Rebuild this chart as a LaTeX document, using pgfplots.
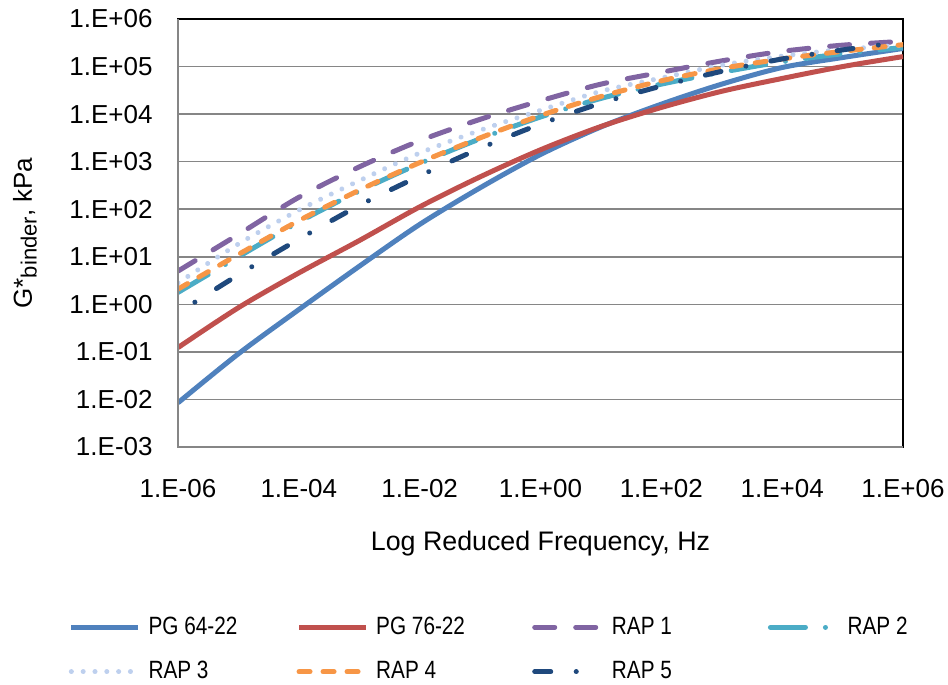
\documentclass[border=0pt]{standalone}
\usepackage{fontspec}
\setmainfont{Liberation Sans}
\usepackage{graphicx}
\usepackage{pgfplots}
\pgfplotsset{compat=1.18}
\definecolor{cBlue}{RGB}{79,129,189}
\definecolor{cRed}{RGB}{192,80,77}
\definecolor{cPurple}{RGB}{128,100,162}
\definecolor{cTeal}{RGB}{75,172,198}
\definecolor{cLight}{RGB}{190,208,238}
\definecolor{cOrange}{RGB}{247,150,70}
\definecolor{cNavy}{RGB}{31,73,125}
\definecolor{cGrid}{RGB}{134,134,134}
\newcommand{\legtext}[2]{\makebox[#1][l]{\scalebox{0.83}[1]{#2}}}
\begin{document}
\begin{tikzpicture}
\useasboundingbox (-89pt,-119pt) rectangle (385pt,223.5pt);
\begin{axis}[
  scale only axis, width=362.5pt, height=214pt,
  xmode=log, ymode=log,
  xmin=1e-6, xmax=1e6, ymin=1e-3, ymax=1e6,
  xtick={1e-6,1e-4,1e-2,1,1e2,1e4,1e6},
  xticklabels={1.E-06,1.E-04,1.E-02,1.E+00,1.E+02,1.E+04,1.E+06},
  ytick={1e-3,1e-2,1e-1,1,1e1,1e2,1e3,1e4,1e5,1e6},
  yticklabels={1.E-03,1.E-02,1.E-01,1.E+00,1.E+01,1.E+02,1.E+03,1.E+04,1.E+05,1.E+06},
  minor tick num=0,
  minor xtick={}, minor ytick={},
  tick style={draw=none},
  ymajorgrids=true,
  grid style={cGrid, line width=0.75pt},
  axis line style={black, line width=0.75pt},
  clip mode=individual,
  font=\fontsize{13}{15.5}\selectfont,
  xticklabel style={inner sep=0pt, anchor=north, yshift=-16pt},
  yticklabel style={inner sep=0pt, anchor=east, xshift=-12.5pt},
  xlabel={Log Reduced Frequency, Hz},
  xlabel style={at={(axis description cs:0.5,0)}, anchor=center, yshift=-48.25pt, font=\fontsize{13.4}{16}\selectfont},
  ylabel={G*\raisebox{-0.35ex}{\fontsize{11}{13}\selectfont binder}, kPa},
  ylabel style={at={(axis description cs:-0.211,0.5)}, anchor=center},
  legend columns=4,
  legend cell align=left,
  legend style={at={(axis description cs:-0.1511,-0.4731)}, anchor=west,
    draw=none, fill=none, inner sep=0pt, row sep=12pt,
    font=\fontsize{12.5}{15}\selectfont,
    nodes={inner sep=0pt},
    /tikz/every odd column/.style={column sep=4.1pt},
    /tikz/every even column/.style={column sep=0pt}},
  legend image code/.code={\draw[#1, dash phase=0pt] (0pt,0pt) -- (33.25pt,0pt);},
]
% PG 64-22
\addplot[cBlue, line width=2.5pt, smooth] coordinates {
(1e-6,0.0085) (1e-5,0.0912) (1e-4,0.776) (1e-3,6.31) (1e-2,47.9) (1e-1,282) (1,1413)
(1e1,5370) (1e2,16200) (1e3,42700) (1e4,95500) (1e5,154900) (1e6,239900)};
\addlegendentry{\legtext{74pt}{PG 64-22}}
% PG 76-22
\addplot[cRed, line width=2.5pt, smooth] coordinates {
(1e-6,0.123) (1e-5,0.851) (1e-4,4.57) (1e-3,21.9) (1e-2,112) (1e-1,479) (1,1778)
(1e1,5495) (1e2,13800) (1e3,30200) (1e4,56200) (1e5,100000) (1e6,162000)};
\addlegendentry{\legtext{78pt}{PG 76-22}}
% RAP 1
\addplot[cPurple, line width=2.5pt, smooth, line cap=round, dash pattern=on 10pt off 10.5pt] coordinates {
(1e-6,5.01) (1e-5,29.5) (1e-4,178) (1e-3,776) (1e-2,2754) (1e-1,7762) (1,19050)
(1e1,42660) (1e2,75860) (1e3,131800) (1e4,208900) (1e5,281800) (1e6,338800)};
\addlegendentry{\legtext{78pt}{RAP 1}}
% RAP 2
\addplot[cTeal, line width=2.5pt, smooth, line cap=round, dash pattern=on 17.5pt off 10pt on 0.01pt off 10pt] coordinates {
(1e-6,1.78) (1e-5,10) (1e-4,53.7) (1e-3,240) (1e-2,912) (1e-1,3020) (1,8710)
(1e1,21380) (1e2,42660) (1e3,75860) (1e4,125900) (1e5,186200) (1e6,251200)};
\addlegendentry{\legtext{40pt}{RAP 2}}
% RAP 3
\addplot[cLight, line width=2.5pt, smooth, line cap=round, dash pattern=on 0.01pt off 5.9pt] coordinates {
(1e-6,2.82) (1e-5,18.6) (1e-4,95.5) (1e-3,398) (1e-2,1514) (1e-1,4571) (1,12020)
(1e1,30200) (1e2,57540) (1e3,107200) (1e4,166000) (1e5,229100) (1e6,281800)};
\addlegendentry{\legtext{74pt}{RAP 3}}
% RAP 4
\addplot[cOrange, line width=2.5pt, smooth, line cap=round, dash pattern=on 5.5pt off 6.5pt] coordinates {
(1e-6,2.09) (1e-5,11.2) (1e-4,57.5) (1e-3,251) (1e-2,955) (1e-1,3162) (1,9333)
(1e1,23440) (1e2,50120) (1e3,91200) (1e4,144500) (1e5,208900) (1e6,288400)};
\addlegendentry{\legtext{78pt}{RAP 4}}
% RAP 5
\addplot[cNavy, line width=2.5pt, smooth, line cap=round, dash pattern=on 8pt off 12.75pt on 0.01pt off 12.75pt, dash phase=10.75pt] coordinates {
(1e-6,0.661) (1e-5,4.17) (1e-4,23.4) (1e-3,120) (1e-2,501) (1e-1,1905) (1,6166)
(1e1,16980) (1e2,38900) (1e3,79430) (1e4,144500) (1e5,223900) (1e6,331100)};
\addlegendentry{\legtext{78pt}{RAP 5}}
\draw[cGrid, line width=0.75pt] (rel axis cs:0,1) -- (rel axis cs:0,0) -- (rel axis cs:1,0);
\end{axis}
\end{tikzpicture}
\end{document}
